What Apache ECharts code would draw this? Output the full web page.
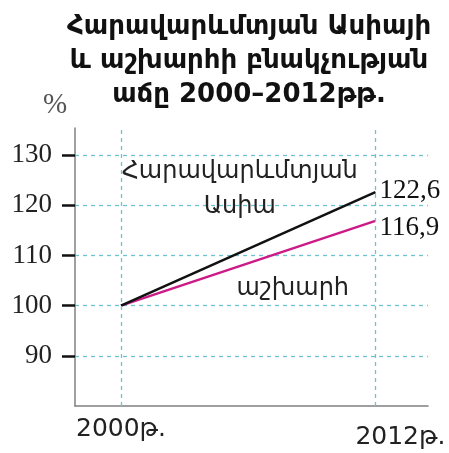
<!DOCTYPE html>
<html><head><meta charset="utf-8">
<script src="https://cdn.jsdelivr.net/npm/echarts@6/dist/echarts.min.js"></script>
<style>html,body{margin:0;padding:0;background:#fff}#c{width:449px;height:453px}</style>
</head><body><div id="c"></div>
<script>
const years = [2000, 2012];
const yearLabels = ['2000թ.', '2012թ.'];
const asia = [100, 122.6];
const world = [100, 116.9];
const asiaEndLabel = '122,6';
const worldEndLabel = '116,9';
const yTicks = [90, 100, 110, 120, 130];
const titleText = 'Հարավարևմտյան Ասիայի\nև աշխարհի բնակչության\nաճը 2000–2012թթ.';
const asiaName = 'Հարավարևմտյան\nԱսիա';
const worldName = 'աշխարհ';

const grid = '#6cc4d0';
const chart = echarts.init(document.getElementById('c'));
chart.setOption({
  animation: false,
  title: {
    text: titleText, left: 244, top: 5, textAlign: 'center',
    textStyle: {fontFamily: 'DejaVu Sans', fontWeight: 'bold', fontSize: 26, lineHeight: 34, color: '#111'}
  },
  grid: {left: 75, right: 21, top: 128, bottom: 47},
  xAxis: {
    type: 'value', min: 1997.83, max: 2014.48,
    axisLine: {lineStyle: {color: '#808080', width: 1.5}},
    axisTick: {show: false},
    splitLine: {show: false},
    axisLabel: {
      customValues: years, margin: 11,
      formatter: v => { const i = years.indexOf(v); return i === 1 ? '{b|' + yearLabels[i] + '}' : '{a|' + yearLabels[i] + '}'; },
      rich: {
        a: {fontFamily: 'DejaVu Sans', fontSize: 25, color: '#222'},
        b: {fontFamily: 'DejaVu Sans', fontSize: 25, color: '#222', padding: [8, 0, 0, 50]}
      }
    }
  },
  yAxis: {
    type: 'value', min: 80, max: 135.4, interval: 10,
    name: '%', nameLocation: 'end', nameGap: 8,
    nameTextStyle: {fontFamily: 'Liberation Serif', fontSize: 29, color: '#555', padding: [0, 40, 0, 0]},
    axisLine: {show: true, lineStyle: {color: '#808080', width: 1.5}},
    axisTick: {show: true, customValues: yTicks, length: 13, lineStyle: {color: '#111', width: 2.5}},
    axisLabel: {customValues: yTicks, margin: 23, fontFamily: 'Liberation Serif', fontSize: 27, color: '#222'},
    splitLine: {show: true, lineStyle: {color: grid, type: [4, 4], width: 1.3}}
  },
  series: [
    {
      type: 'line', data: years.map((x, i) => [x, asia[i]]), symbol: 'none',
      lineStyle: {color: '#111', width: 2.5},
      endLabel: {show: true, formatter: asiaEndLabel, distance: 4, offset: [0, -1], fontFamily: 'Liberation Serif', fontSize: 27, color: '#111'},
      markLine: {
        silent: true, symbol: 'none', label: {show: false},
        lineStyle: {color: grid, type: [4, 4], width: 1.3},
        data: years.map(x => ({xAxis: x}))
      },
      markPoint: {
        symbol: 'circle', symbolSize: 0,
        label: {show: true, formatter: asiaName, fontFamily: 'DejaVu Sans', fontSize: 24, lineHeight: 35, color: '#222', align: 'center'},
        data: [{coord: [2005.6, 123.1]}]
      },
      z: 3
    },
    {
      type: 'line', data: years.map((x, i) => [x, world[i]]), symbol: 'none',
      lineStyle: {color: '#cc1a88', width: 2.5},
      endLabel: {show: true, formatter: worldEndLabel, distance: 4, offset: [0, 7], fontFamily: 'Liberation Serif', fontSize: 27, color: '#111'},
      markPoint: {
        symbol: 'circle', symbolSize: 0,
        label: {show: true, formatter: worldName, fontFamily: 'DejaVu Sans', fontSize: 24, color: '#222', align: 'center'},
        data: [{coord: [2008.1, 103.3]}]
      },
      z: 2
    }
  ]
});
</script></body></html>
